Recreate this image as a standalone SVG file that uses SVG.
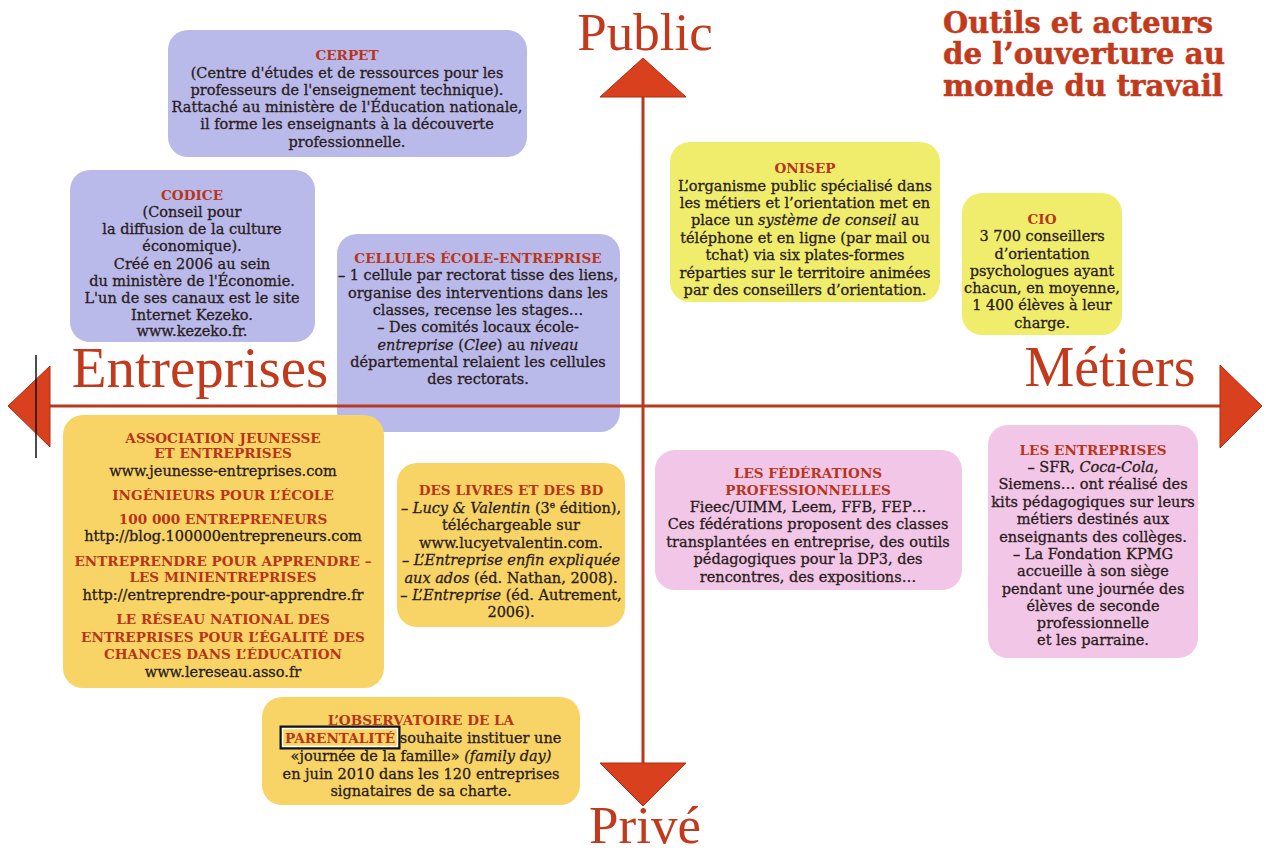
<svg xmlns="http://www.w3.org/2000/svg" width="1266" height="851" viewBox="0 0 1266 851">
<style>
.bg{fill:#ffffff}
.lav{fill:#b9b9ea}
.yel{fill:#f0ed6c}
.org{fill:#f8d466}
.pnk{fill:#f2c6e6}
.t{font-family:"DejaVu Serif","Liberation Serif",serif;font-size:14.5px;fill:#2a1c1c;text-anchor:middle;stroke:#2a1c1c;stroke-width:0.3}
.h{font-family:"DejaVu Serif","Liberation Serif",serif;font-size:13.6px;font-weight:bold;fill:#b8341a;text-anchor:middle}
.ax{font-family:"Liberation Serif","DejaVu Serif",serif;fill:#c23a1c;text-anchor:middle}
.ttl{font-family:"DejaVu Serif","Liberation Serif",serif;font-weight:bold;font-size:29px;fill:#c23a1c;stroke:#c23a1c;stroke-width:0.5}
.i{font-style:italic}
.axis{stroke:#b83a1e;stroke-width:3;fill:none}
.arr{fill:#d9401e;stroke:#b02c12;stroke-width:1}
</style>
<rect class="bg" x="0" y="0" width="1266" height="851"/>

<g id="title">
<text class="ttl" x="943" y="33" textLength="270" lengthAdjust="spacingAndGlyphs">Outils et acteurs</text>
<text class="ttl" x="943" y="64" textLength="282" lengthAdjust="spacingAndGlyphs">de l’ouverture au</text>
<text class="ttl" x="943" y="96" textLength="280" lengthAdjust="spacingAndGlyphs">monde du travail</text>
</g>

<g id="cerpet">
<rect class="lav" x="168" y="30" width="359" height="127" rx="20"/>
<text class="h" x="347" y="60">CERPET</text>
<text class="t" x="347" y="78">(Centre d'études et de ressources pour les</text>
<text class="t" x="347" y="95">professeurs de l'enseignement technique).</text>
<text class="t" x="347" y="112">Rattaché au ministère de l'Éducation nationale,</text>
<text class="t" x="347" y="129">il forme les enseignants à la découverte</text>
<text class="t" x="347" y="147">professionnelle.</text>
</g>

<g id="codice">
<rect class="lav" x="70" y="170" width="245" height="172" rx="20"/>
<text class="h" x="192" y="200">CODICE</text>
<text class="t" x="192" y="217">(Conseil pour</text>
<text class="t" x="192" y="234">la diffusion de la culture</text>
<text class="t" x="192" y="251">économique).</text>
<text class="t" x="192" y="269">Créé en 2006 au sein</text>
<text class="t" x="192" y="286">du ministère de l'Économie.</text>
<text class="t" x="192" y="303">L'un de ses canaux est le site</text>
<text class="t" x="192" y="320">Internet Kezeko.</text>
<text class="t" x="192" y="336">www.kezeko.fr.</text>
</g>

<g id="cellules">
<rect class="lav" x="337" y="234" width="283" height="198" rx="20"/>
<text class="h" x="478" y="263">CELLULES ÉCOLE-ENTREPRISE</text>
<text class="t" x="478" y="280">– 1 cellule par rectorat tisse des liens,</text>
<text class="t" x="478" y="298">organise des interventions dans les</text>
<text class="t" x="478" y="315">classes, recense les stages…</text>
<text class="t" x="478" y="332">– Des comités locaux école-</text>
<text class="t" x="478" y="350"><tspan class="i">entreprise</tspan> (<tspan class="i">Clee</tspan>) au <tspan class="i">niveau</tspan></text>
<text class="t" x="478" y="367">départemental relaient les cellules</text>
<text class="t" x="478" y="384">des rectorats.</text>
</g>

<g id="onisep">
<rect class="yel" x="670" y="142" width="270" height="160" rx="20"/>
<text class="h" x="805" y="173">ONISEP</text>
<text class="t" x="805" y="191">L’organisme public spécialisé dans</text>
<text class="t" x="805" y="208">les métiers et l’orientation met en</text>
<text class="t" x="805" y="225">place un <tspan class="i">système de conseil</tspan> au</text>
<text class="t" x="805" y="243">téléphone et en ligne (par mail ou</text>
<text class="t" x="805" y="260">tchat) via six plates-formes</text>
<text class="t" x="805" y="278">réparties sur le territoire animées</text>
<text class="t" x="805" y="295">par des conseillers d’orientation.</text>
</g>

<g id="cio">
<rect class="yel" x="962" y="193" width="160" height="142" rx="20"/>
<text class="h" x="1042" y="224">CIO</text>
<text class="t" x="1042" y="241">3 700 conseillers</text>
<text class="t" x="1042" y="259">d’orientation</text>
<text class="t" x="1042" y="276">psychologues ayant</text>
<text class="t" x="1042" y="293">chacun, en moyenne,</text>
<text class="t" x="1042" y="310">1 400 élèves à leur</text>
<text class="t" x="1042" y="328">charge.</text>
</g>

<g id="associations">
<rect class="org" x="63" y="415" width="321" height="273" rx="20"/>
<text class="h" x="223" y="443">ASSOCIATION JEUNESSE</text>
<text class="h" x="223" y="458">ET ENTREPRISES</text>
<text class="t" x="223" y="476">www.jeunesse-entreprises.com</text>
<text class="h" x="223" y="500">INGÉNIEURS POUR L’ÉCOLE</text>
<text class="h" x="223" y="524">100 000 ENTREPRENEURS</text>
<text class="t" x="223" y="541">http://blog.100000entrepreneurs.com</text>
<text class="h" x="223" y="566">ENTREPRENDRE POUR APPRENDRE –</text>
<text class="h" x="223" y="582">LES MINIENTREPRISES</text>
<text class="t" x="223" y="600">http://entreprendre-pour-apprendre.fr</text>
<text class="h" x="223" y="624">LE RÉSEAU NATIONAL DES</text>
<text class="h" x="223" y="642">ENTREPRISES POUR L’ÉGALITÉ DES</text>
<text class="h" x="223" y="659">CHANCES DANS L’ÉDUCATION</text>
<text class="t" x="223" y="677">www.lereseau.asso.fr</text>
</g>

<g id="livres">
<rect class="org" x="397" y="463" width="228" height="164" rx="20"/>
<text class="h" x="511" y="495">DES LIVRES ET DES BD</text>
<text class="t" x="511" y="513">– <tspan class="i">Lucy &amp; Valentin</tspan> (3<tspan font-size="9" dy="-5">e</tspan><tspan dy="5"> édition),</tspan></text>
<text class="t" x="511" y="530">téléchargeable sur</text>
<text class="t" x="511" y="548">www.lucyetvalentin.com.</text>
<text class="t" x="511" y="565">– <tspan class="i">L’Entreprise enfin expliquée</tspan></text>
<text class="t" x="511" y="583"><tspan class="i">aux ados</tspan> (éd. Nathan, 2008).</text>
<text class="t" x="511" y="600">– <tspan class="i">L’Entreprise</tspan> (éd. Autrement,</text>
<text class="t" x="511" y="617">2006).</text>
</g>

<g id="federations">
<rect class="pnk" x="655" y="450" width="307" height="140" rx="20"/>
<text class="h" x="808" y="478">LES FÉDÉRATIONS</text>
<text class="h" x="808" y="495">PROFESSIONNELLES</text>
<text class="t" x="808" y="512">Fieec/UIMM, Leem, FFB, FEP…</text>
<text class="t" x="808" y="529">Ces fédérations proposent des classes</text>
<text class="t" x="808" y="547">transplantées en entreprise, des outils</text>
<text class="t" x="808" y="564">pédagogiques pour la DP3, des</text>
<text class="t" x="808" y="582">rencontres, des expositions…</text>
</g>

<g id="entreprises">
<rect class="pnk" x="988" y="425" width="210" height="233" rx="20"/>
<text class="h" x="1093" y="455">LES ENTREPRISES</text>
<text class="t" x="1093" y="472">– SFR, <tspan class="i">Coca-Cola</tspan>,</text>
<text class="t" x="1093" y="489">Siemens… ont réalisé des</text>
<text class="t" x="1093" y="507">kits pédagogiques sur leurs</text>
<text class="t" x="1093" y="524">métiers destinés aux</text>
<text class="t" x="1093" y="542">enseignants des collèges.</text>
<text class="t" x="1093" y="559">– La Fondation KPMG</text>
<text class="t" x="1093" y="576">accueille à son siège</text>
<text class="t" x="1093" y="594">pendant une journée des</text>
<text class="t" x="1093" y="611">élèves de seconde</text>
<text class="t" x="1093" y="628">professionnelle</text>
<text class="t" x="1093" y="645">et les parraine.</text>
</g>

<g id="observatoire">
<rect class="org" x="262" y="697" width="318" height="108" rx="20"/>
<text class="h" x="421" y="725">L’OBSERVATOIRE DE LA</text>
<text class="t" x="285" y="743" style="text-anchor:start"><tspan style="font-weight:bold;fill:#b8341a;stroke:none;font-size:13.6px">PARENTALITÉ</tspan> souhaite instituer une</text>
<text class="t" x="421" y="761">«journée de la famille» <tspan class="i">(family day)</tspan></text>
<text class="t" x="421" y="779">en juin 2010 dans les 120 entreprises</text>
<text class="t" x="421" y="796">signataires de sa charte.</text>
<rect x="281" y="727" width="118" height="21" fill="none" stroke="#111" stroke-width="3"/>
<rect x="282.5" y="728.5" width="115" height="18" fill="none" stroke="#fff" stroke-width="1.5"/>
</g>

<g id="connectors">
<line class="axis" x1="643" y1="92" x2="643" y2="765"/>
<line class="axis" x1="48" y1="406" x2="1222" y2="406"/>
<polygon class="arr" points="643,58 686,97 600,97"/>
<polygon class="arr" points="600,763 686,763 643,806"/>
<polygon class="arr" points="8,406 50,366 50,447"/>
<polygon class="arr" points="1262,406 1220,365 1220,448"/>
<line x1="36" y1="355" x2="36" y2="458" stroke="#111" stroke-width="1.5"/>
</g>

<g id="axis-labels">
<text class="ax" x="645" y="50" font-size="53">Public</text>
<text class="ax" x="645" y="843" font-size="53">Privé</text>
<text class="ax" x="200" y="387" font-size="57">Entreprises</text>
<text class="ax" x="1110" y="386" font-size="56">Métiers</text>
</g>
</svg>
